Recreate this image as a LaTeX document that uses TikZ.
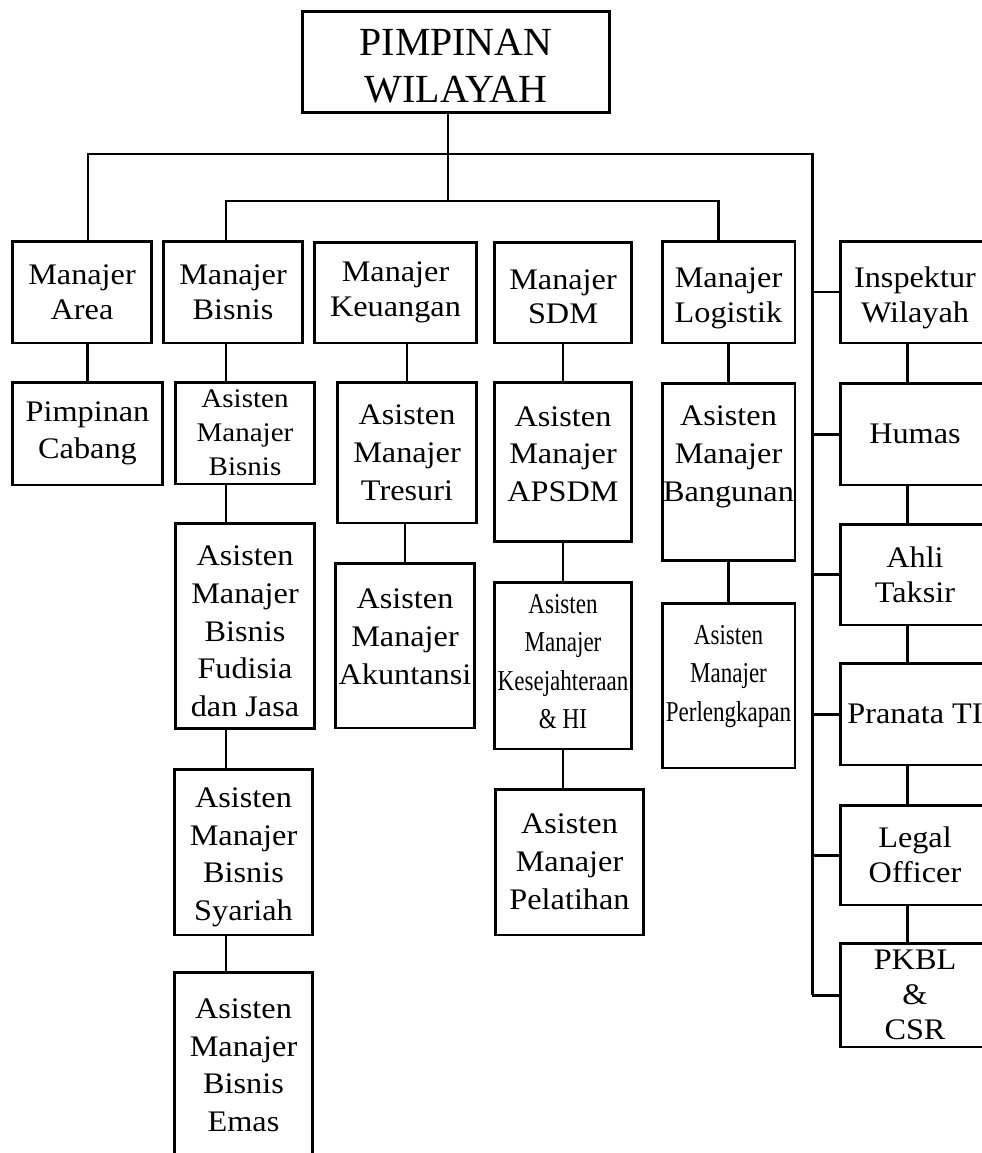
\documentclass[tikz,border=0pt]{standalone}
\usepackage{fontspec}
\setmainfont{Liberation Serif}[FakeStretch=1.08]
\newfontfamily\topfont{Liberation Serif}
\newfontfamily\narrowfont{Liberation Serif}[FakeStretch=0.8]
\newcommand\hgt[1]{\rule{0pt}{#1}}
\newcommand\dpt[1]{\rule[-#1]{0pt}{#1}}

\tikzset{
  box/.style={draw, rectangle, inner sep=0pt, align=center},
  topbox/.style={box, font=\topfont\fontsize{22.7pt}{26.6pt}\selectfont},
  mgr/.style={box, font=\fontsize{17pt}{19.8pt}\selectfont},
  asst/.style={box, font=\fontsize{17pt}{21.5pt}\selectfont},
  asstsmall/.style={box, font=\fontsize{15.3pt}{19.3pt}\selectfont},
  asstnarrow/.style={box, font=\narrowfont\fontsize{16.4pt}{21.8pt}\selectfont}
}

\begin{document}
\begin{tikzpicture}[x=0.02cm, y=-0.02cm, line width=1.7pt]
\fill[white] (0,0) rectangle (982,1153);
\useasboundingbox (0,0) rectangle (982,1153);
\clip (0,0) rectangle (982,1153);

% pimpinan
\node[topbox, minimum width=6.16cm, minimum height=2.04cm] (pw) at (456,62) {\hgt{19.5pt}PIMPINAN\\WILAYAH};

% manajer
\node[mgr, minimum width=2.8cm, minimum height=2.04cm] (area) at (82,292) {Manajer\\Area};
\node[mgr, minimum width=2.8cm, minimum height=2.04cm] (bisnis) at (233,292) {Manajer\\Bisnis};
\node[mgr, minimum width=3.26cm, minimum height=2.02cm] (keu) at (395.5,292.5) {Manajer\\Keuangan};
\node[mgr, minimum width=2.76cm, minimum height=2.02cm] (sdm) at (563,292.5) {\hgt{16.2pt}Manajer\\SDM};
\node[mgr, minimum width=2.66cm, minimum height=2.04cm] (log) at (728.5,292) {\hgt{18.5pt}Manajer\\Logistik};
\node[mgr, minimum width=3.0cm, minimum height=2.04cm] (insp) at (915,292) {\hgt{18.5pt}Inspektur\\Wilayah};

% asisten
\node[asst, minimum width=3.02cm, minimum height=2.06cm, font=\fontsize{17pt}{21pt}\selectfont] (cabang) at (87.5,433.5) {Pimpinan\\Cabang};
\node[asstsmall, minimum width=2.8cm, minimum height=2.04cm] (amb) at (245,433) {Asisten\\Manajer\\Bisnis};
\node[asst, minimum width=2.8cm, minimum height=4.12cm] (fudisia) at (245,626) {\hgt{17.3pt}Asisten\\Manajer\\Bisnis\\Fudisia\\dan Jasa};
\node[asst, minimum width=2.78cm, minimum height=3.32cm] (syariah) at (243.5,852) {\hgt{17.3pt}Asisten\\Manajer\\Bisnis\\Syariah};
\node[asst, minimum width=2.78cm, minimum height=3.9cm] (emas) at (243.5,1070) {Asisten\\Manajer\\Bisnis\\Emas\dpt{5.7pt}};
\node[asst, minimum width=2.8cm, minimum height=2.82cm] (tresuri) at (407,452.5) {Asisten\\Manajer\\Tresuri};
\node[asst, minimum width=2.8cm, minimum height=3.3cm] (akuntansi) at (405,645.5) {Asisten\\Manajer\\Akuntansi\dpt{10.2pt}};
\node[asst, minimum width=2.76cm, minimum height=3.2cm] (apsdm) at (563,462) {Asisten\\Manajer\\APSDM\dpt{9.1pt}};
\node[asstnarrow, minimum width=2.76cm, minimum height=3.34cm] (kesej) at (563,665.5) {Asisten\\Manajer\\Kesejahteraan\\\& HI\dpt{4.5pt}};
\node[asst, minimum width=2.98cm, minimum height=2.92cm] (pelatihan) at (569.5,862) {Asisten\\Manajer\\Pelatihan};
\node[asst, minimum width=2.66cm, minimum height=3.56cm] (bangunan) at (728.5,472) {Asisten\\Manajer\\Bangunan\dpt{20.7pt}};
\node[asstnarrow, minimum width=2.66cm, minimum height=3.3cm] (perleng) at (728.5,685.5) {Asisten\\Manajer\\Perlengkapan\dpt{13.9pt}};

% staf inspektur
\node[mgr, minimum width=3.0cm, minimum height=2.04cm] (humas) at (915,434) {Humas};
\node[mgr, minimum width=3.0cm, minimum height=2.02cm] (ahli) at (915,574.5) {Ahli\\Taksir};
\node[mgr, minimum width=3.0cm, minimum height=2.04cm] (pranata) at (915,714) {Pranata TI};
\node[mgr, minimum width=3.0cm, minimum height=2.0cm] (legal) at (915,855) {Legal\\Officer};
\node[mgr, minimum width=3.0cm, minimum height=2.08cm] (pkbl) at (915,995) {PKBL\\\&\\CSR};

% garis
\coordinate (t1) at (448,154);
\coordinate (t2) at (448,201);
\coordinate (b1L) at (88,154);
\coordinate (b1R) at (812,154);
\coordinate (b2L) at (226,201);
\coordinate (b2R) at (718,201);
\coordinate (rx) at (907,343);

\draw (pw.south -| t1) -- (t2);
\draw (b1L |- area.north) -- (b1L) -- (b1R) -- (b1R |- pkbl.west);
\draw (b2L |- bisnis.north) -- (b2L) -- (b2R) -- (b2R |- log.north);

\draw (cabang.north) -- (cabang.north |- area.south);
\draw (b2L |- bisnis.south) -- (b2L |- amb.north);
\draw (b2L |- amb.south) -- (b2L |- fudisia.north);
\draw (b2L |- fudisia.south) -- (b2L |- syariah.north);
\draw (b2L |- syariah.south) -- (b2L |- emas.north);
\draw (tresuri.north) -- (tresuri.north |- keu.south);
\draw (akuntansi.north) -- (akuntansi.north |- tresuri.south);
\draw (apsdm.north) -- (apsdm.north |- sdm.south);
\draw (kesej.north) -- (kesej.north |- apsdm.south);
\draw (kesej.south) -- (kesej.south |- pelatihan.north);
\draw (bangunan.north) -- (bangunan.north |- log.south);
\draw (perleng.north) -- (perleng.north |- bangunan.south);

\draw (b1R |- insp.west) -- (insp.west);
\draw (b1R |- humas.west) -- (humas.west);
\draw (b1R |- ahli.west) -- (ahli.west);
\draw (b1R |- pranata.west) -- (pranata.west);
\draw (b1R |- legal.west) -- (legal.west);
\draw (b1R |- pkbl.west) -- (pkbl.west);

\draw (insp.south -| rx) -- (humas.north -| rx);
\draw (humas.south -| rx) -- (ahli.north -| rx);
\draw (ahli.south -| rx) -- (pranata.north -| rx);
\draw (pranata.south -| rx) -- (legal.north -| rx);
\draw (legal.south -| rx) -- (pkbl.north -| rx);
\end{tikzpicture}
\end{document}
